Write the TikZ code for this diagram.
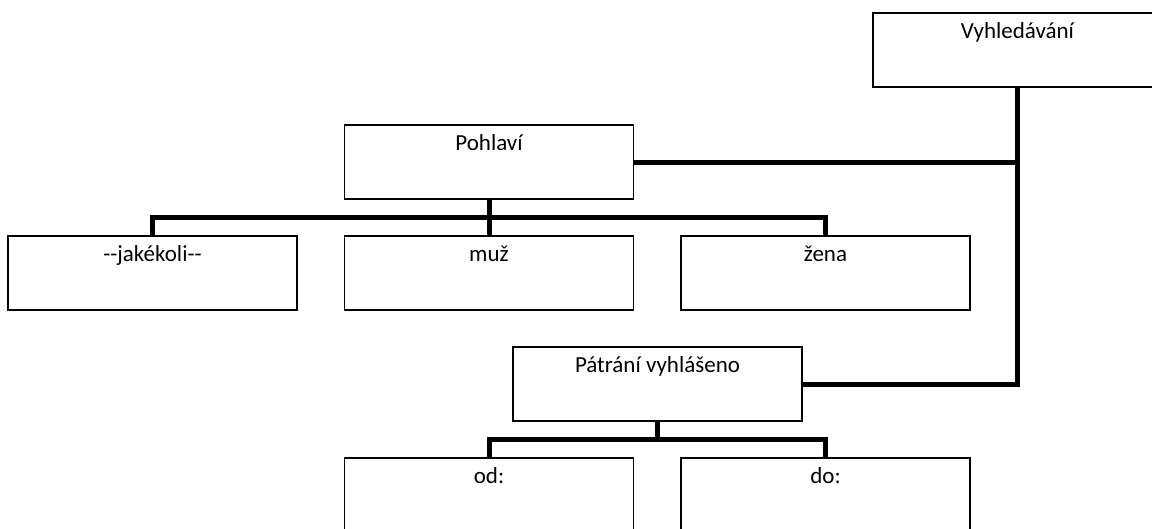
\documentclass[tikz,border=0pt]{standalone}
\usepackage{fontspec}
\setmainfont{Carlito}
\usetikzlibrary{calc}

\tikzset{
  box/.style={draw, line width=1.5pt, minimum width=289pt, inner sep=0pt,
    text height=25pt, text depth=49pt, font=\fontsize{23}{27}\selectfont},
  conn/.style={line width=5pt},
}

\begin{document}
\begin{tikzpicture}[x=1pt,y=-1pt]

\clip (0,0) rectangle (1152,528);
\fill[white] (0,0) rectangle (1152,528);

\node[box] (vyhl) at (1017.5,50) {Vyhledávání};
\node[box] (pohl) at (489,162) {Pohlaví};
\node[box] (jake) at (152.5,273) {{-}{-}jakékoli{-}{-}};
\node[box] (muz) at (489,273) {muž};
\node[box] (zena) at (825.5,273) {žena};
\node[box] (patr) at (657.5,384) {Pátrání vyhlášeno};
\node[box] (od) at (489,495) {od:};
\node[box] (do) at (825.5,495) {do:};

\coordinate (pbus) at ($(pohl.south)!0.5!(muz.north)$);
\coordinate (tbus) at ($(patr.south)!0.5!(od.north)$);

\draw[conn] (vyhl.south) |- (patr.east);
\draw[conn] (pohl.east) -| (vyhl.south);
\draw[conn] (pohl.south) -- (muz.north);
\draw[conn] (jake.north) |- (pbus) -| (zena.north);
\draw[conn] (patr.south) -- (patr.south |- tbus);
\draw[conn] (od.north) |- (tbus) -| (do.north);

\end{tikzpicture}
\end{document}
